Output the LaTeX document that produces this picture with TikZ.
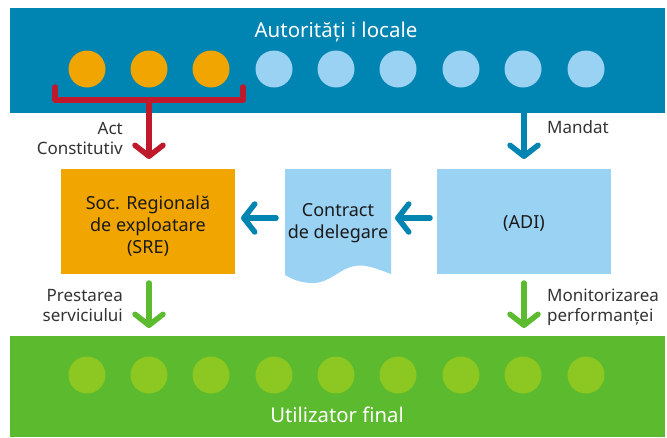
\documentclass[tikz,border=0pt]{standalone}
\usepackage{fontspec}
\setmainfont{Noto Sans}
\usetikzlibrary{arrows.meta}
\definecolor{topblue}{HTML}{0084B1}
\definecolor{lightblue}{HTML}{9AD2F3}
\definecolor{orangec}{HTML}{F0A500}
\definecolor{redc}{HTML}{BE1A2C}
\definecolor{greenband}{HTML}{5BBA2E}
\definecolor{lightgreen}{HTML}{8DC721}
\definecolor{greenarrow}{HTML}{5DBB2F}
\definecolor{labelc}{HTML}{333333}
\definecolor{textc}{HTML}{1A1A1A}
\tikzset{
  band/.style={fill=#1, draw=none, inner sep=0pt, minimum width=655pt},
  dot/.style={circle, fill=#1, draw=none, minimum size=37pt, inner sep=0pt},
  boxtext/.style={align=center, text=textc, font=\fontsize{18}{22}\selectfont, inner sep=0pt},
  box/.style={fill=#1, draw=none, minimum width=174pt, minimum height=105pt},
  conn/.style={line width=5.5pt, draw=#1, line cap=round, line join=round,
    -{Straight Barb[length=11pt,width=28pt,round]}},
  lab/.style={text=labelc, font=\fontsize{17}{20}\selectfont, inner sep=0pt},
}
\begin{document}
\begin{tikzpicture}[x=1pt,y=-1pt]
\useasboundingbox (0,0) rectangle (667,437);
% bands
\node[band=topblue, minimum height=105pt] (top) at (337.5,60.5) {};
\node[band=greenband, minimum height=101pt] (bottom) at (337.5,386.5) {};
\node[text=white, font=\fontsize{20.5}{24}\selectfont, anchor=base] (toptitle) at (336,37) {Autorități i locale};
\node[text=white, font=\fontsize{20.3}{24}\selectfont, anchor=base] (bottitle) at (337,422) {Utilizator final};
% circles
\foreach \i/\x in {1/87,2/149,3/211}{
  \node[dot=orangec] (t\i) at (\x,69) {};
}
\foreach \i/\x in {4/274,5/336,6/398,7/461,8/523,9/586}{
  \node[dot=lightblue] (t\i) at (\x,69) {};
}
\foreach \i/\x in {1/87,2/149,3/211,4/274,5/336,6/398,7/461,8/523,9/586}{
  \node[dot=lightgreen] (b\i) at (\x,375) {};
}
% boxes
\node[box=orangec, label={[boxtext, yshift=-5pt]center:{Soc. Regională\\de exploatare\\(SRE)}}] (sre) at (148,221.5) {};
\node[box=lightblue, label={[boxtext, yshift=-1.5pt]center:{(ADI)}}] (adi) at (524,221.5) {};
\fill[lightblue] (285,169) -- (391,169) -- (391,274)
  .. controls (375,268) and (365,264) .. (355,266)
  .. controls (340,268) and (330,283) .. (313,283)
  .. controls (300,283) and (292,279) .. (285,275) -- cycle;
\node[boxtext, minimum width=106pt] (contract) at (338,223.5) {Contract\\de delegare};
% red bracket
\coordinate (bl) at (55,87);
\coordinate (br) at (243,87);
\coordinate (bm) at (149,100);
\coordinate (redtip) at (149,159);
\draw[line width=5.5pt, redc, line cap=round, line join=round] (bl) |- (bm) -| (br);
\draw[conn=redc] (bm) -- (redtip);
\node[lab, anchor=base east, align=right] (actlab) at (123,154) {Act\\Constitutiv};
% mandat
\coordinate (mstart) at (524,112);
\coordinate (mtip) at (524,159);
\draw[conn=topblue] (mstart) -- (mtip);
\node[lab, anchor=base west] (mandat) at (547,133) {Mandat};
% horizontal arrows
\coordinate (a1s) at (430,218);
\coordinate (a1e) at (395,218);
\coordinate (a2s) at (276,218);
\coordinate (a2e) at (241,218);
\draw[conn=topblue] (a1s) -- (a1e);
\draw[conn=topblue] (a2s) -- (a2e);
% green arrows
\coordinate (g1s) at (149,283);
\coordinate (g1e) at (149,328);
\coordinate (g2s) at (524,283);
\coordinate (g2e) at (524,328);
\draw[conn=greenarrow] (g1s) -- (g1e);
\draw[conn=greenarrow] (g2s) -- (g2e);
\node[lab, anchor=base east, align=right] (prest) at (123,321) {Prestarea\\serviciului};
\node[lab, anchor=base west, align=left] (monit) at (547,321) {Monitorizarea\\performanței};
\end{tikzpicture}
\end{document}
